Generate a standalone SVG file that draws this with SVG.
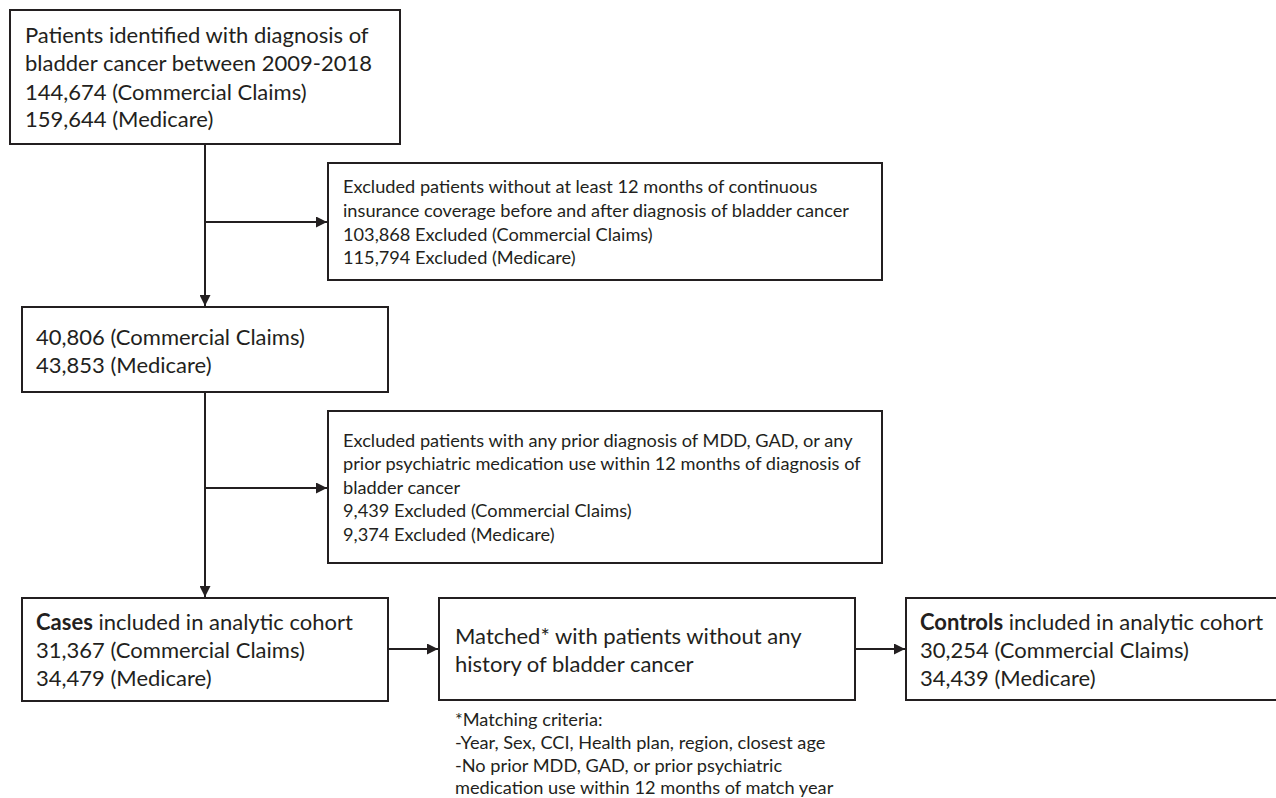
<svg xmlns="http://www.w3.org/2000/svg" width="1276" height="798" viewBox="0 0 1276 798">
<defs>
<marker id="arr" markerWidth="11" markerHeight="11" refX="11" refY="5.5" orient="auto" markerUnits="userSpaceOnUse">
<path d="M0,0 L11,5.5 L0,11 Z" fill="#231f20"/>
</marker>
<style>
.box{fill:#fff;stroke:#231f20;stroke-width:2}
.big{font-family:Lato,"Liberation Sans",sans-serif;font-size:22px;fill:#231f20}
.sm{font-family:Lato,"Liberation Sans",sans-serif;font-size:18.2px;fill:#231f20}
.b{font-weight:bold}
.ln{stroke:#231f20;stroke-width:2;fill:none}
</style>
</defs>
<rect width="1276" height="798" fill="#fff"/>
<g id="connectors">
<path class="ln" d="M205,144 V306" marker-end="url(#arr)"/>
<path class="ln" d="M205,222 H327" marker-end="url(#arr)"/>
<path class="ln" d="M205,392 V597" marker-end="url(#arr)"/>
<path class="ln" d="M205,488 H327" marker-end="url(#arr)"/>
<path class="ln" d="M388,649 H438" marker-end="url(#arr)"/>
<path class="ln" d="M856,649 H905" marker-end="url(#arr)"/>
</g>
<g id="n1">
<rect class="box" x="10" y="10" width="390" height="134"/>
<text class="big" x="25" y="43">Patients identified with diagnosis of</text>
<text class="big" x="25" y="71">bladder cancer between 2009-2018</text>
<text class="big" x="25" y="100">144,674 (Commercial Claims)</text>
<text class="big" x="25" y="127">159,644 (Medicare)</text>
</g>
<g id="ex1">
<rect class="box" x="328" y="163" width="554" height="117"/>
<text class="sm" x="343" y="193">Excluded patients without at least 12 months of continuous</text>
<text class="sm" x="343" y="217">insurance coverage before and after diagnosis of bladder cancer</text>
<text class="sm" x="343" y="241">103,868 Excluded (Commercial Claims)</text>
<text class="sm" x="343" y="264">115,794 Excluded (Medicare)</text>
</g>
<g id="n2">
<rect class="box" x="22" y="307" width="366" height="85"/>
<text class="big" x="36" y="345">40,806 (Commercial Claims)</text>
<text class="big" x="36" y="373">43,853 (Medicare)</text>
</g>
<g id="ex2">
<rect class="box" x="328" y="411" width="554" height="152"/>
<text class="sm" x="343" y="447">Excluded patients with any prior diagnosis of MDD, GAD, or any</text>
<text class="sm" x="343" y="470">prior psychiatric medication use within 12 months of diagnosis of</text>
<text class="sm" x="343" y="494">bladder cancer</text>
<text class="sm" x="343" y="517">9,439 Excluded (Commercial Claims)</text>
<text class="sm" x="343" y="541">9,374 Excluded (Medicare)</text>
</g>
<g id="cases">
<rect class="box" x="22" y="598" width="366" height="103"/>
<text class="big" x="36" y="630"><tspan class="b">Cases</tspan> included in analytic cohort</text>
<text class="big" x="36" y="658">31,367 (Commercial Claims)</text>
<text class="big" x="36" y="686">34,479 (Medicare)</text>
</g>
<g id="match">
<rect class="box" x="439" y="598" width="416" height="102"/>
<text class="big" x="455" y="644">Matched* with patients without any</text>
<text class="big" x="455" y="672">history of bladder cancer</text>
</g>
<g id="controls">
<rect class="box" x="906" y="598" width="380" height="102"/>
<text class="big" x="920" y="630"><tspan class="b">Controls</tspan> included in analytic cohort</text>
<text class="big" x="920" y="658">30,254 (Commercial Claims)</text>
<text class="big" x="920" y="686">34,439 (Medicare)</text>
</g>
<g id="footnote">
<text class="sm" x="455" y="726">*Matching criteria:</text>
<text class="sm" x="455" y="749">-Year, Sex, CCI, Health plan, region, closest age</text>
<text class="sm" x="455" y="772">-No prior MDD, GAD, or prior psychiatric</text>
<text class="sm" x="455" y="794">medication use within 12 months of match year</text>
</g>
</svg>
